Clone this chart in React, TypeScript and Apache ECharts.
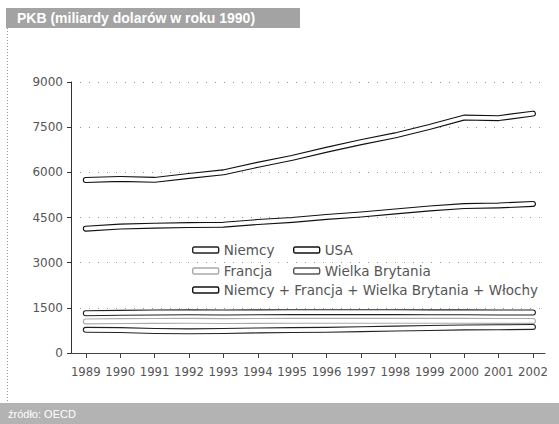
import React, { useEffect, useRef } from "react";
import * as echarts from "echarts";

const years = [1989, 1990, 1991, 1992, 1993, 1994, 1995, 1996, 1997, 1998, 1999, 2000, 2001, 2002];
const usa = [5745, 5780, 5750, 5880, 6000, 6250, 6480, 6750, 7000, 7230, 7510, 7820, 7800, 7950];
const sum4 = [4130, 4200, 4230, 4250, 4260, 4350, 4420, 4520, 4600, 4700, 4800, 4880, 4900, 4950];
const niemcy = [1320, 1335, 1345, 1350, 1345, 1350, 1355, 1355, 1355, 1355, 1350, 1350, 1345, 1345];
const francja = [1050, 1060, 1065, 1070, 1060, 1065, 1070, 1070, 1070, 1070, 1070, 1068, 1065, 1065];
const wielkaBrytania = [770, 760, 730, 720, 730, 750, 760, 770, 790, 810, 830, 850, 855, 865];
const yTicks = [0, 1500, 3000, 4500, 6000, 7500, 9000];

const NAME_N = "Niemcy";
const NAME_USA = "USA";
const NAME_F = "Francja";
const NAME_WB = "Wielka Brytania";
const NAME_SUM = "Niemcy + Francja + Wielka Brytania + Włochy";

export default function App() {
  const ref = useRef<HTMLDivElement>(null);
  useEffect(() => {
    if (!ref.current) return;
    const chart = echarts.init(ref.current, null, { renderer: "svg" });
    const pts = (vals: number[]) => years.map((y, i) => [y, vals[i]]);
    const tube = (name: string, vals: number[], outline: string, z: number) => [
      {
        name,
        type: "line",
        data: pts(vals),
        symbol: "none",
        z,
        lineStyle: { color: outline, width: 6, cap: "round", join: "round" },
        emphasis: { disabled: true },
      },
      {
        name: name + "_inner",
        type: "line",
        data: pts(vals),
        symbol: "none",
        z: z + 0.5,
        lineStyle: { color: "#ffffff", width: 3.8, cap: "round", join: "round" },
        emphasis: { disabled: true },
      },
    ];
    const legendText = { color: "#555", fontFamily: "DejaVu Sans", fontSize: 13.5 };
    const mkLegend = (name: string, left: number, top: number, border: string) => ({
      left,
      top,
      padding: 0,
      itemWidth: 26,
      itemHeight: 6,
      icon: "roundRect",
      selectedMode: false,
      textStyle: legendText,
      data: [{ name, itemStyle: { color: "#fff", borderColor: border, borderWidth: 1.4 } }],
    });
    chart.setOption({
      animation: false,
      backgroundColor: "#ffffff",
      grid: { left: 71, right: 14, top: 82, bottom: 71 },
      xAxis: {
        type: "value",
        min: 1988.57,
        max: 2002.35,
        axisLine: { show: true, lineStyle: { color: "#444", width: 1 } },
        axisTick: { show: true, length: 5, customValues: years, lineStyle: { color: "#444" } },
        axisLabel: {
          customValues: years,
          formatter: (v: number) => String(v),
          color: "#555",
          fontFamily: "'Liberation Sans Narrow', 'DejaVu Sans Condensed', sans-serif",
          fontSize: 13,
          margin: 12,
        },
        splitLine: { show: false },
      },
      yAxis: {
        type: "value",
        min: yTicks[0],
        max: yTicks[yTicks.length - 1],
        interval: 1500,
        axisLine: { show: true, lineStyle: { color: "#333", width: 1 } },
        axisTick: { show: true, length: 4, lineStyle: { color: "#333" } },
        axisLabel: {
          color: "#555",
          fontFamily: "DejaVu Sans",
          fontSize: 12,
          margin: 8,
          formatter: (v: number) => String(v),
        },
        splitLine: { show: true, lineStyle: { color: "#999", type: [1, 8], width: 1 } },
      },
      legend: [
        mkLegend(NAME_N, 192, 243, "#222"),
        mkLegend(NAME_USA, 293, 243, "#111"),
        mkLegend(NAME_F, 192, 264, "#aaa"),
        mkLegend(NAME_WB, 293, 264, "#555"),
        mkLegend(NAME_SUM, 192, 283, "#111"),
      ],
      series: [
        ...tube(NAME_WB, wielkaBrytania, "#222", 2),
        ...tube(NAME_F, francja, "#aaa", 3),
        ...tube(NAME_N, niemcy, "#222", 4),
        ...tube(NAME_SUM, sum4, "#111", 5),
        ...tube(NAME_USA, usa, "#111", 6),
      ],
      graphic: [
        { type: "rect", shape: { x: 6, y: 8, width: 294, height: 20 }, style: { fill: "#a3a3a3" } },
        {
          type: "text",
          x: 17,
          y: 18,
          style: {
            text: "PKB (miliardy dolarów w roku 1990)",
            fill: "#ffffff",
            font: "bold 14px 'Liberation Sans', sans-serif",
            verticalAlign: "middle",
          },
        },
        { type: "rect", shape: { x: 0, y: 403, width: 559, height: 21 }, style: { fill: "#b3b3b3" } },
        {
          type: "text",
          x: 8,
          y: 414,
          style: {
            text: "źródło: OECD",
            fill: "#ffffff",
            font: "11px 'Liberation Sans', sans-serif",
            verticalAlign: "middle",
          },
        },
        {
          type: "line",
          shape: { x1: 7.5, y1: 28, x2: 7.5, y2: 403 },
          style: { stroke: "#999", lineWidth: 1, lineDash: [1, 2] },
        },
      ],
    });
    return () => chart.dispose();
  }, []);
  return (
    <div
      ref={ref}
      style={{ position: "absolute", left: 0, top: 0, width: 559, height: 424 }}
    />
  );
}
